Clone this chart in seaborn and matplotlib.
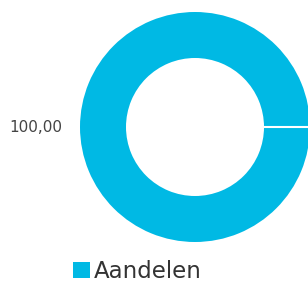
import matplotlib
matplotlib.use("Agg")
import matplotlib.pyplot as plt
import seaborn as sns

categories = ["Aandelen"]
values = [100.0]
value_labels = ["100,00"]
colors = ["#00b9e4"]

sns.set_theme(style="white")
plt.rcParams['font.family'] = ['DejaVu Sans']

W, H = 308, 282
fig = plt.figure(figsize=(W / 100, H / 100), dpi=100)
cx, cy, r = 195, 127, 115
ax = fig.add_axes([(cx - r) / W, (H - cy - r) / H, 2 * r / W, 2 * r / H])
ring = 0.4
wedges, texts = ax.pie(values, labels=value_labels, colors=colors, startangle=0,
                       counterclock=True, radius=1.0, labeldistance=1.15,
                       wedgeprops=dict(width=ring, edgecolor="none"),
                       textprops=dict(color="#444444", fontsize=11))
# slice boundary (start angle 0) drawn as a white separator
w = wedges[0]
ax.plot([w.r - w.width, w.r], [0, 0], color="white", lw=1.5, solid_capstyle="butt")
ax.set_xlim(-1, 1)
ax.set_ylim(-1, 1)
ax.set_aspect("equal")
ax.axis("off")

leg = fig.legend(wedges, categories, loc="center", bbox_to_anchor=(137.5 / W, 1 - 271.5 / H),
                 frameon=False, fontsize=16.5, handlelength=0.75, handleheight=0.7,
                 handletextpad=0.15, borderpad=0.1, labelcolor="#333333")
for h in leg.legend_handles:
    h.set_edgecolor("none")

fig.savefig("out.png", dpi=100)
